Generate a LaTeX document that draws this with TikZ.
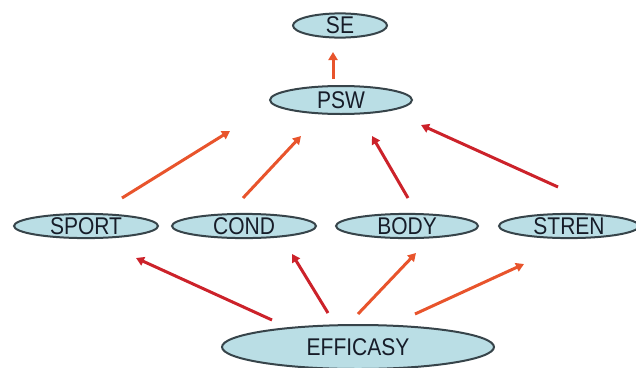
\documentclass[tikz,border=0pt]{standalone}
\usepackage{fontspec}
\setmainfont{Liberation Sans}
\usetikzlibrary{arrows.meta,shapes.geometric}
\definecolor{nodefill}{RGB}{186,222,229}
\definecolor{nodeedge}{RGB}{55,68,74}
\definecolor{nodetext}{RGB}{22,28,40}
\definecolor{arrorange}{RGB}{232,84,44}
\definecolor{arrred}{RGB}{204,34,42}
\tikzset{
  ell/.style={shape=ellipse, draw=nodeedge, fill=nodefill, line width=2pt, inner sep=0pt, text=nodetext, font=\fontsize{21}{21}\selectfont},
  arr/.style={line width=3pt, -{Triangle[length=8pt,width=9pt]}},
  arrO/.style={arr, draw=arrorange, color=arrorange},
  arrR/.style={arr, draw=arrred, color=arrred}
}
\newcommand{\tall}[1]{\scalebox{1}[1.15]{#1}}
\begin{document}
\begin{tikzpicture}[x=1pt,y=-1pt]
\useasboundingbox (0,0) rectangle (636,367);
\node[ell, minimum width=94pt, minimum height=21pt] (se) at (340,25.5) {\tall{SE}};
\node[ell, minimum width=142pt, minimum height=28pt] (psw) at (341,100) {\tall{PSW}};
\node[ell, minimum width=144pt, minimum height=23pt] (sport) at (86,226) {\tall{SPORT}};
\node[ell, minimum width=144pt, minimum height=23pt] (cond) at (244,226) {\tall{COND}};
\node[ell, minimum width=142pt, minimum height=23pt] (body) at (407,226) {\tall{BODY}};
\node[ell, minimum width=140pt, minimum height=23pt] (stren) at (569,226) {\tall{STREN}};
\node[ell, minimum width=272pt, minimum height=44pt] (eff) at (358,347) {\tall{EFFICASY}};
% arrow endpoints
\coordinate (a1s) at (333,79);  \coordinate (a1e) at (333,52);
\coordinate (a2s) at (122,198); \coordinate (a2e) at (230,131);
\coordinate (a3s) at (243,198); \coordinate (a3e) at (301,136);
\coordinate (a4s) at (408,198); \coordinate (a4e) at (372,136);
\coordinate (a5s) at (558,187); \coordinate (a5e) at (421,125);
\coordinate (b1s) at (272,320); \coordinate (b1e) at (136,258);
\coordinate (b2s) at (328,313); \coordinate (b2e) at (292,254);
\coordinate (b3s) at (358,314); \coordinate (b3e) at (416,253);
\coordinate (b4s) at (415,314); \coordinate (b4e) at (524,264);
\draw[arrO] (a1s) -- (a1e);
\draw[arrO] (a2s) -- (a2e);
\draw[arrO] (a3s) -- (a3e);
\draw[arrR] (a4s) -- (a4e);
\draw[arrR] (a5s) -- (a5e);
\draw[arrR] (b1s) -- (b1e);
\draw[arrR] (b2s) -- (b2e);
\draw[arrO] (b3s) -- (b3e);
\draw[arrO] (b4s) -- (b4e);
\end{tikzpicture}
\end{document}
